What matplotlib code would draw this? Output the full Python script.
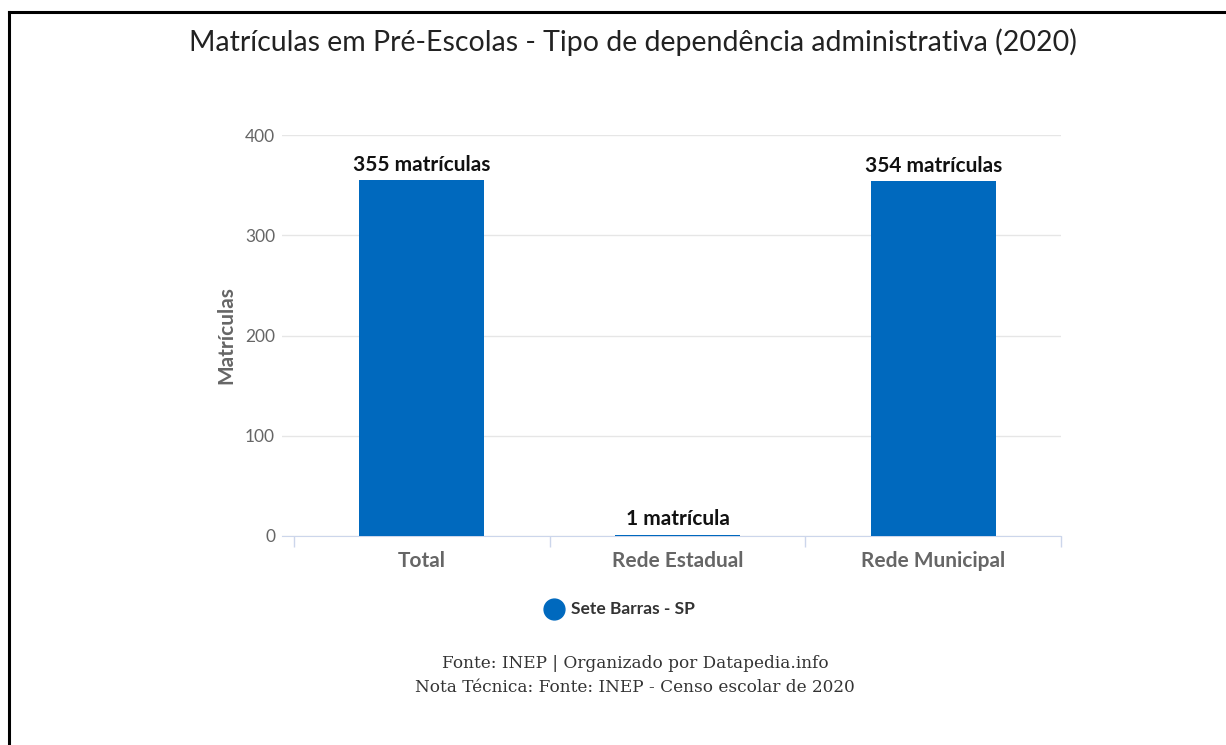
import matplotlib
matplotlib.use("Agg")
import matplotlib.pyplot as plt
from matplotlib.lines import Line2D

categories = ["Total", "Rede Estadual", "Rede Municipal"]
values = [355, 1, 354]
labels = ["355 matrículas", "1 matrícula", "354 matrículas"]
series_name = "Sete Barras - SP"
title = "Matrículas em Pré-Escolas - Tipo de dependência administrativa (2020)"
ylabel = "Matrículas"
yticks = [0, 100, 200, 300, 400]
footer1 = "Fonte: INEP | Organizado por Datapedia.info"
footer2 = "Nota Técnica: Fonte: INEP - Censo escolar de 2020"

W, H = 1226, 745
fig = plt.figure(figsize=(W / 100, H / 100), dpi=100)
fig.patch.set_facecolor("white")

sans = ["Lato", "DejaVu Sans"]
bar_color = "#0069BE"
gray = "#666666"

ax_l, ax_r = 282, 1061
ax_t, ax_b = 135, 536
ax = fig.add_axes([ax_l / W, 1 - ax_b / H, (ax_r - ax_l) / W, (ax_b - ax_t) / H])
x = list(range(len(categories)))
ax.bar(x, values, width=0.49, color=bar_color, zorder=3)
ax.set_xlim(-0.547, 2.5)
ax.set_ylim(0, 400)
ax.set_yticks(yticks)
ax.set_yticklabels([str(v) for v in yticks], fontsize=12.5, color=gray, family=sans)
ax.set_xticks(x)
ax.set_xticklabels(categories, fontsize=15, color=gray, fontweight="bold", family=sans)
ax.tick_params(axis="y", length=0, pad=5)
ax.tick_params(axis="x", length=0, pad=11)
# category boundary ticks
ax.set_xticks([-0.5, 0.5, 1.5, 2.5], minor=True)
ax.tick_params(axis="x", which="minor", length=8, color="#ccd6eb", width=1)
ax.grid(axis="y", color="#e6e6e6", linewidth=1, zorder=0)
for s in ["top", "right", "left"]:
    ax.spines[s].set_visible(False)
ax.spines["bottom"].set_color("#ccd6eb")
ax.set_ylabel(ylabel, fontsize=15, color=gray, fontweight="bold", family=sans, labelpad=6)

for xi, v, lab in zip(x, values, labels):
    ax.annotate(lab, (xi, v), xytext=(0, 4), textcoords="offset points",
                ha="center", va="bottom", fontsize=15, fontweight="bold",
                color="#111111", family=sans, zorder=4)

fig.text(633 / W, 1 - 42 / H, title, ha="center", va="center", fontsize=20.5,
         color="#222222", family=sans)

# legend
fig.add_artist(Line2D([554 / W], [1 - 609 / H], marker="o", markersize=15,
                      color=bar_color, linestyle="none", transform=fig.transFigure))
fig.text(571 / W, 1 - 609 / H, series_name, ha="left", va="center", fontsize=12.5,
         fontweight="bold", color="#333333", family=sans)

serif = ["DejaVu Serif", "Liberation Serif"]
fig.text(635 / W, 1 - 663 / H, footer1, ha="center", va="center", fontsize=12.2,
         color="#333333", family=serif)
fig.text(635 / W, 1 - 688 / H, footer2, ha="center", va="center", fontsize=12.2,
         color="#333333", family=serif)

# frame lines (top and left)
fig.add_artist(Line2D([8.5 / W, 8.5 / W], [0, 1 - 11.5 / H], color="black",
                      linewidth=2.2, transform=fig.transFigure))
fig.add_artist(Line2D([8.5 / W, 1], [1 - 11.5 / H, 1 - 11.5 / H], color="black",
                      linewidth=2.2, transform=fig.transFigure))

fig.savefig("out.png", dpi=100, facecolor="white")
